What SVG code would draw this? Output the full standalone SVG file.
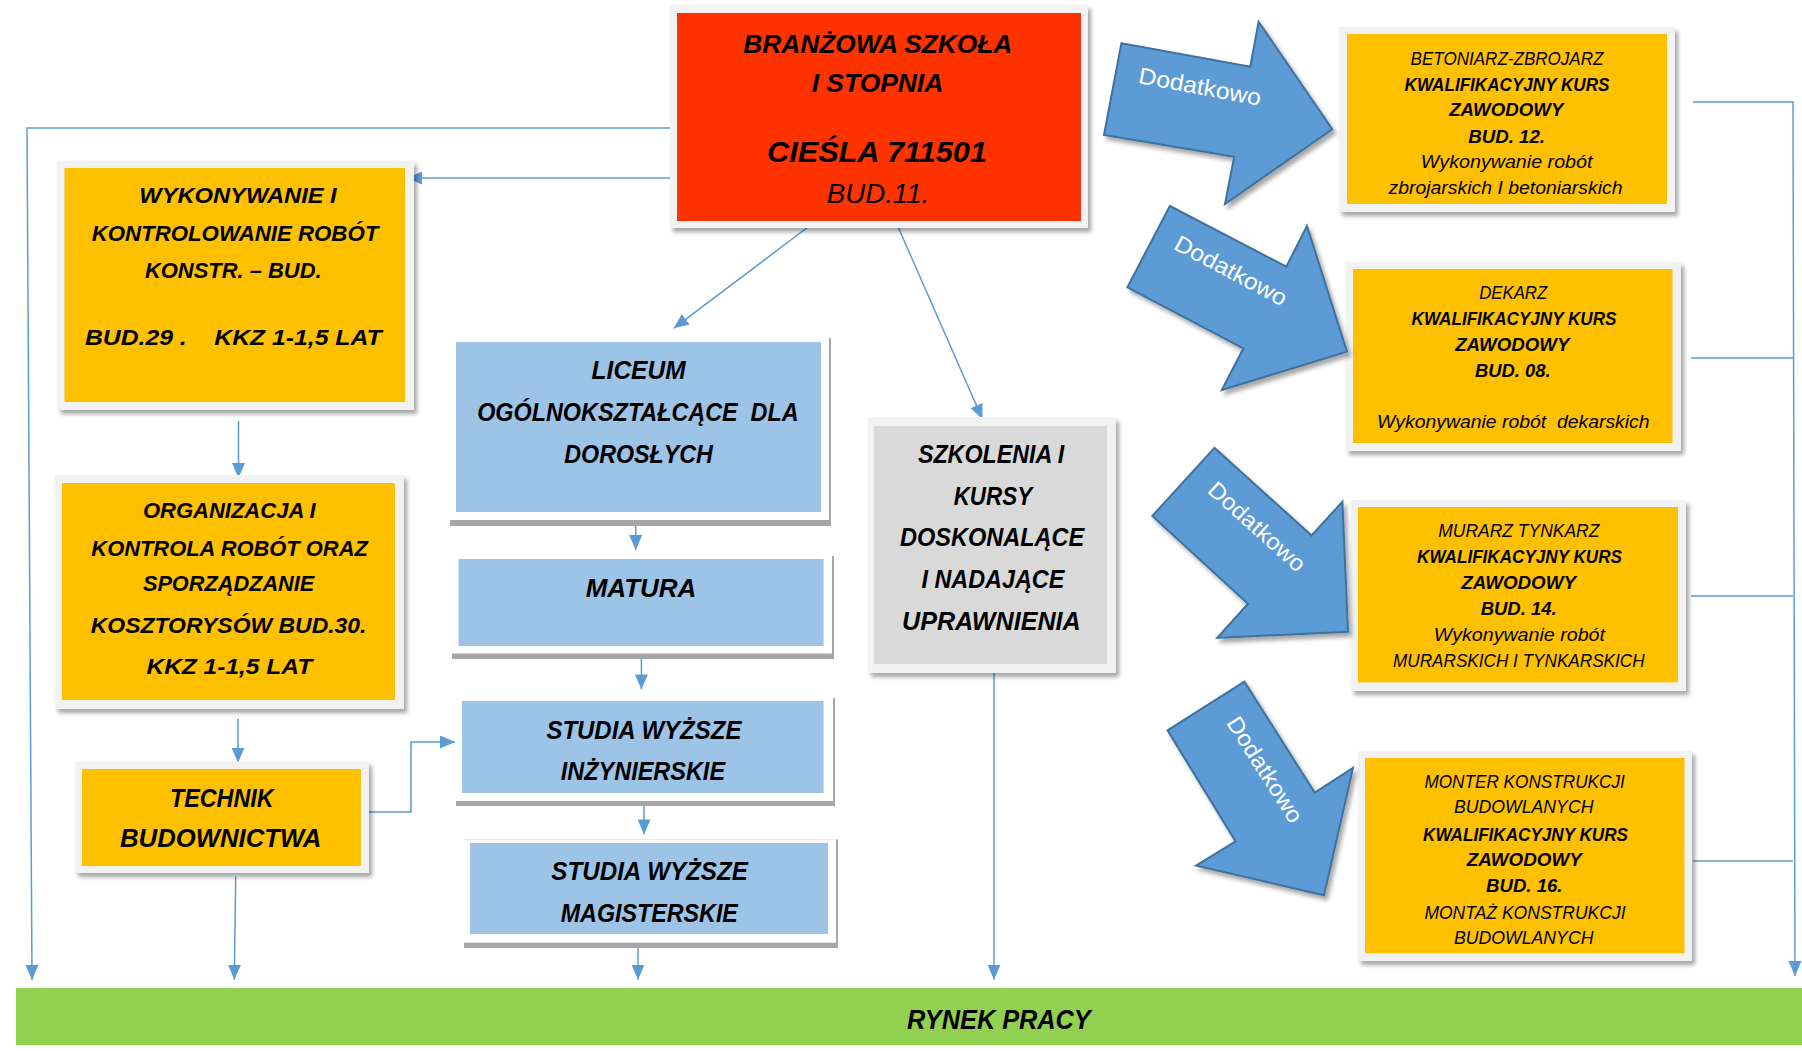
<svg xmlns="http://www.w3.org/2000/svg" width="1802" height="1051" viewBox="0 0 1802 1051">
<defs>
<style>
.t{font-family:"Liberation Sans",Arial,sans-serif;font-style:italic;text-anchor:middle;fill:#000}
.b{font-weight:bold}
.pre{white-space:pre}
.s22{font-size:22px}.s25{font-size:25px}.s18{font-size:18.5px}
.frame{fill:#f2f2f2;filter:url(#sh)}
.org{fill:#ffc000}.red{fill:#ff3300}.blue{fill:#9dc3e6}.gray{fill:#d9d9d9}
.bsh{fill:#a6a6a6}.wh{fill:#fff}
.conn{fill:none;stroke:#5b9bd5;stroke-width:1.5}
.arr{fill:#5b9bd5;stroke:#41719c;stroke-width:2;stroke-linejoin:miter;filter:url(#sh)}
.dod{font-family:"Liberation Sans",Arial,sans-serif;fill:#fff;font-size:23px;text-anchor:middle}
</style>
<filter id="sh" x="-10%" y="-10%" width="125%" height="130%">
<feDropShadow dx="3" dy="4" stdDeviation="2.2" flood-color="#000" flood-opacity="0.35"/>
</filter>
<marker id="ah" markerUnits="userSpaceOnUse" markerWidth="15" markerHeight="13" refX="15" refY="6.5" orient="auto" viewBox="0 0 15 13">
<path d="M0,0 L15,6.5 L0,13 Z" fill="#5b9bd5"/>
</marker>
</defs>
<rect width="1802" height="1051" fill="#fff"/>

<g id="connectors">
<path class="conn" d="M677 128 H27 L32 980" marker-end="url(#ah)"/>
<path class="conn" d="M677 178 H407" marker-end="url(#ah)"/>
<path class="conn" d="M812 224 L673.7 328.3" marker-end="url(#ah)"/>
<path class="conn" d="M898 226.7 L982.5 419.3" marker-end="url(#ah)"/>
<path class="conn" d="M238.5 421 V478" marker-end="url(#ah)"/>
<path class="conn" d="M238 718.6 V762.7" marker-end="url(#ah)"/>
<path class="conn" d="M366 812 H411 V742 H455" marker-end="url(#ah)"/>
<path class="conn" d="M235.7 876.5 L234.3 979.7" marker-end="url(#ah)"/>
<path class="conn" d="M635.7 521 V550" marker-end="url(#ah)"/>
<path class="conn" d="M641.4 654 V689.4" marker-end="url(#ah)"/>
<path class="conn" d="M644 800.5 V834.4" marker-end="url(#ah)"/>
<path class="conn" d="M638 942.7 V979.7" marker-end="url(#ah)"/>
<path class="conn" d="M994 672.6 V979.7" marker-end="url(#ah)"/>
<path class="conn" d="M1693 102 H1793 L1795 976" marker-end="url(#ah)"/>
<path class="conn" d="M1691 358 H1793 M1691 596 H1793 M1693 861 H1793"/>
</g>

<g id="branzowa">
<rect class="frame" x="670" y="5" width="418" height="223"/>
<rect class="red" x="677" y="13" width="404" height="208"/>
<text class="t b" style="font-size:25.5px" x="877.8" y="53.3" textLength="269" lengthAdjust="spacingAndGlyphs">BRANŻOWA SZKOŁA</text>
<text class="t b" style="font-size:25.5px" x="877.5" y="91.7" textLength="131.6" lengthAdjust="spacingAndGlyphs">I STOPNIA</text>
<text class="t b" style="font-size:30px" x="877" y="161.7" textLength="220" lengthAdjust="spacingAndGlyphs">CIEŚLA 711501</text>
<text class="t" style="font-size:27px" x="878" y="203.3" textLength="102.6" lengthAdjust="spacingAndGlyphs">BUD.11.</text>
</g>

<g id="bud29">
<rect class="frame" x="57.5" y="160.7" width="356.5" height="249.3"/>
<rect class="org" x="64.5" y="168" width="340.5" height="234"/>
<text class="t b s22" x="238" y="203.3" textLength="197.4" lengthAdjust="spacingAndGlyphs">WYKONYWANIE I</text>
<text class="t b s22" x="235" y="241" textLength="286.6" lengthAdjust="spacingAndGlyphs">KONTROLOWANIE ROBÓT</text>
<text class="t b s22" x="233.3" y="278.3" textLength="176.7" lengthAdjust="spacingAndGlyphs">KONSTR. – BUD.</text>
<text class="t b s22 pre" x="233.3" y="345" textLength="296.7" lengthAdjust="spacingAndGlyphs">BUD.29 .    KKZ 1-1,5 LAT</text>
</g>

<g id="bud30">
<rect class="frame" x="55" y="475" width="349" height="234"/>
<rect class="org" x="62" y="483" width="333" height="217"/>
<text class="t b s22" x="229.3" y="518" textLength="172.8" lengthAdjust="spacingAndGlyphs">ORGANIZACJA I</text>
<text class="t b s22" x="229.6" y="555.7" textLength="276.5" lengthAdjust="spacingAndGlyphs">KONTROLA ROBÓT ORAZ</text>
<text class="t b s22" x="228.6" y="591.2" textLength="171.4" lengthAdjust="spacingAndGlyphs">SPORZĄDZANIE</text>
<text class="t b s22" x="228.6" y="632.9" textLength="275.7" lengthAdjust="spacingAndGlyphs">KOSZTORYSÓW BUD.30.</text>
<text class="t b s22" x="229.3" y="673.8" textLength="165.7" lengthAdjust="spacingAndGlyphs">KKZ 1-1,5 LAT</text>
</g>

<g id="technik">
<rect class="frame" x="75" y="761.5" width="294" height="111.5"/>
<rect class="org" x="82" y="769" width="279" height="97"/>
<text class="t b s25" x="221.8" y="807.1" textLength="103.6" lengthAdjust="spacingAndGlyphs">TECHNIK</text>
<text class="t b s25" x="220.7" y="847.2" textLength="201.4" lengthAdjust="spacingAndGlyphs">BUDOWNICTWA</text>
</g>

<g id="liceum">
<rect class="bsh" x="450" y="338" width="381" height="188"/>
<rect class="wh" x="450" y="338" width="379" height="182"/>
<rect class="blue" x="456" y="342" width="365" height="170"/>
<text class="t b s25" x="638.6" y="379.3" textLength="94" lengthAdjust="spacingAndGlyphs">LICEUM</text>
<text class="t b s25 pre" x="637.9" y="421" textLength="321.4" lengthAdjust="spacingAndGlyphs">OGÓLNOKSZTAŁCĄCE  DLA</text>
<text class="t b s25" x="638.6" y="462.6" textLength="148.6" lengthAdjust="spacingAndGlyphs">DOROSŁYCH</text>
</g>

<g id="matura">
<rect class="bsh" x="452" y="556" width="382" height="103"/>
<rect class="wh" x="452" y="556" width="380" height="97.5"/>
<rect class="blue" x="458.6" y="559" width="365" height="87"/>
<text class="t b s25" x="641" y="596.7" textLength="110.7" lengthAdjust="spacingAndGlyphs">MATURA</text>
</g>

<g id="studia-inz">
<rect class="bsh" x="456" y="698" width="379" height="108"/>
<rect class="wh" x="456" y="698" width="377" height="103"/>
<rect class="blue" x="462" y="701" width="361.6" height="92"/>
<text class="t b s25" x="643.9" y="738.9" textLength="195" lengthAdjust="spacingAndGlyphs">STUDIA WYŻSZE</text>
<text class="t b s25" x="642.9" y="779.8" textLength="164.3" lengthAdjust="spacingAndGlyphs">INŻYNIERSKIE</text>
</g>

<g id="studia-mag">
<rect class="bsh" x="464" y="839.5" width="374" height="108.5"/>
<rect class="wh" x="464" y="839.5" width="372" height="103.2"/>
<rect class="blue" x="470" y="843" width="358" height="91"/>
<text class="t b s25" x="649.6" y="880.4" textLength="196.5" lengthAdjust="spacingAndGlyphs">STUDIA WYŻSZE</text>
<text class="t b s25" x="649.3" y="922" textLength="177.2" lengthAdjust="spacingAndGlyphs">MAGISTERSKIE</text>
</g>

<g id="szkolenia">
<rect class="frame" x="868" y="417" width="248" height="256"/>
<rect class="gray" x="874" y="426" width="233" height="238"/>
<text class="t b s25" x="991.1" y="463.4" textLength="146.4" lengthAdjust="spacingAndGlyphs">SZKOLENIA I</text>
<text class="t b s25" x="992.9" y="505.1" textLength="78.5" lengthAdjust="spacingAndGlyphs">KURSY</text>
<text class="t b s25" x="992.1" y="546.4" textLength="184.3" lengthAdjust="spacingAndGlyphs">DOSKONALĄCE</text>
<text class="t b s25" x="992.9" y="588.1" textLength="142.9" lengthAdjust="spacingAndGlyphs">I NADAJĄCE</text>
<text class="t b s25" x="991.4" y="629.8" textLength="178.6" lengthAdjust="spacingAndGlyphs">UPRAWNIENIA</text>
</g>

<g id="bud12">
<rect class="frame" x="1339" y="27" width="336" height="185"/>
<rect class="org" x="1347" y="34" width="320" height="170"/>
<text class="t s18" x="1507" y="65" textLength="192.9" lengthAdjust="spacingAndGlyphs">BETONIARZ-ZBROJARZ</text>
<text class="t b s18" x="1507" y="90.7" textLength="204.9" lengthAdjust="spacingAndGlyphs">KWALIFIKACYJNY KURS</text>
<text class="t b s18" x="1506.3" y="115.7" textLength="114.2" lengthAdjust="spacingAndGlyphs">ZAWODOWY</text>
<text class="t b s18" x="1506.6" y="142.7" textLength="76.9" lengthAdjust="spacingAndGlyphs">BUD. 12.</text>
<text class="t s18" x="1506.6" y="168.3" textLength="171.7" lengthAdjust="spacingAndGlyphs">Wykonywanie robót</text>
<text class="t s18" x="1505.5" y="194.3" textLength="233.9" lengthAdjust="spacingAndGlyphs">zbrojarskich I betoniarskich</text>
</g>

<g id="bud08">
<rect class="frame" x="1346" y="262" width="335" height="189"/>
<rect class="org" x="1353" y="269" width="319.5" height="174"/>
<text class="t s18" x="1513.2" y="299" textLength="68.1" lengthAdjust="spacingAndGlyphs">DEKARZ</text>
<text class="t b s18" x="1514" y="325" textLength="204.9" lengthAdjust="spacingAndGlyphs">KWALIFIKACYJNY KURS</text>
<text class="t b s18" x="1512.3" y="350.7" textLength="114.2" lengthAdjust="spacingAndGlyphs">ZAWODOWY</text>
<text class="t b s18" x="1512.8" y="376.7" textLength="75.5" lengthAdjust="spacingAndGlyphs">BUD. 08.</text>
<text class="t s18 pre" x="1513.3" y="428.3" textLength="272.5" lengthAdjust="spacingAndGlyphs">Wykonywanie robót  dekarskich</text>
</g>

<g id="bud14">
<rect class="frame" x="1351" y="500" width="335" height="191"/>
<rect class="org" x="1358" y="507" width="320" height="175.4"/>
<text class="t s18" x="1518.8" y="537.4" textLength="161.1" lengthAdjust="spacingAndGlyphs">MURARZ TYNKARZ</text>
<text class="t b s18" x="1519.5" y="563.1" textLength="204.9" lengthAdjust="spacingAndGlyphs">KWALIFIKACYJNY KURS</text>
<text class="t b s18" x="1518.6" y="588.9" textLength="114.7" lengthAdjust="spacingAndGlyphs">ZAWODOWY</text>
<text class="t b s18" x="1518.6" y="614.6" textLength="75.9" lengthAdjust="spacingAndGlyphs">BUD. 14.</text>
<text class="t s18" x="1519.3" y="640.7" textLength="171.3" lengthAdjust="spacingAndGlyphs">Wykonywanie robót</text>
<text class="t s18" x="1518.8" y="667.2" textLength="251.5" lengthAdjust="spacingAndGlyphs">MURARSKICH I TYNKARSKICH</text>
</g>

<g id="bud16">
<rect class="frame" x="1358" y="751" width="334" height="210"/>
<rect class="org" x="1365" y="758" width="319.5" height="195.2"/>
<text class="t s18" x="1524.6" y="788" textLength="200.3" lengthAdjust="spacingAndGlyphs">MONTER KONSTRUKCJI</text>
<text class="t s18" x="1523.7" y="813.3" textLength="139.5" lengthAdjust="spacingAndGlyphs">BUDOWLANYCH</text>
<text class="t b s18" x="1525.5" y="840.6" textLength="204.9" lengthAdjust="spacingAndGlyphs">KWALIFIKACYJNY KURS</text>
<text class="t b s18" x="1524.3" y="865.6" textLength="115.1" lengthAdjust="spacingAndGlyphs">ZAWODOWY</text>
<text class="t b s18" x="1524.3" y="892" textLength="76.4" lengthAdjust="spacingAndGlyphs">BUD. 16.</text>
<text class="t s18" x="1525" y="918.6" textLength="201.2" lengthAdjust="spacingAndGlyphs">MONTAŻ KONSTRUKCJI</text>
<text class="t s18" x="1523.7" y="943.9" textLength="139.5" lengthAdjust="spacingAndGlyphs">BUDOWLANYCH</text>
</g>

<g id="dodatkowo-1">
<polygon class="arr" points="1121.4,43.3 1250.3,66.7 1258.6,21.7 1332.3,129.3 1225,204 1234.2,156.7 1104,135"/>
<text class="dod" transform="translate(1200,86.5) rotate(10.5)" x="0" y="8" textLength="124" lengthAdjust="spacingAndGlyphs">Dodatkowo</text>
</g>
<g id="dodatkowo-2">
<polygon class="arr" points="1169.8,206 1286.3,266.7 1307,226 1347,351.7 1221.8,390 1243.4,348.3 1127.4,287.3"/>
<text class="dod" transform="translate(1231,270.5) rotate(28)" x="0" y="8" textLength="124" lengthAdjust="spacingAndGlyphs">Dodatkowo</text>
</g>
<g id="dodatkowo-3">
<polygon class="arr" points="1214.4,447.8 1311.6,535.5 1342.4,501.6 1348,631.7 1217.2,638 1248,603.7 1152.3,516"/>
<text class="dod" transform="translate(1257,526.5) rotate(42)" x="0" y="8" textLength="122" lengthAdjust="spacingAndGlyphs">Dodatkowo</text>
</g>
<g id="dodatkowo-4">
<polygon class="arr" points="1244.4,681.6 1314.8,792.7 1353,768 1324,895.2 1196,865.6 1235.6,841.4 1167.5,730.3"/>
<text class="dod" transform="translate(1265,769.5) rotate(57.5)" x="0" y="8" textLength="121" lengthAdjust="spacingAndGlyphs">Dodatkowo</text>
</g>

<g id="rynek-pracy">
<rect x="16" y="988" width="1786" height="57" fill="#92d050"/>
<text class="t b" style="font-size:27px" x="998.9" y="1029.2" textLength="183.7" lengthAdjust="spacingAndGlyphs">RYNEK PRACY</text>
</g>
</svg>
